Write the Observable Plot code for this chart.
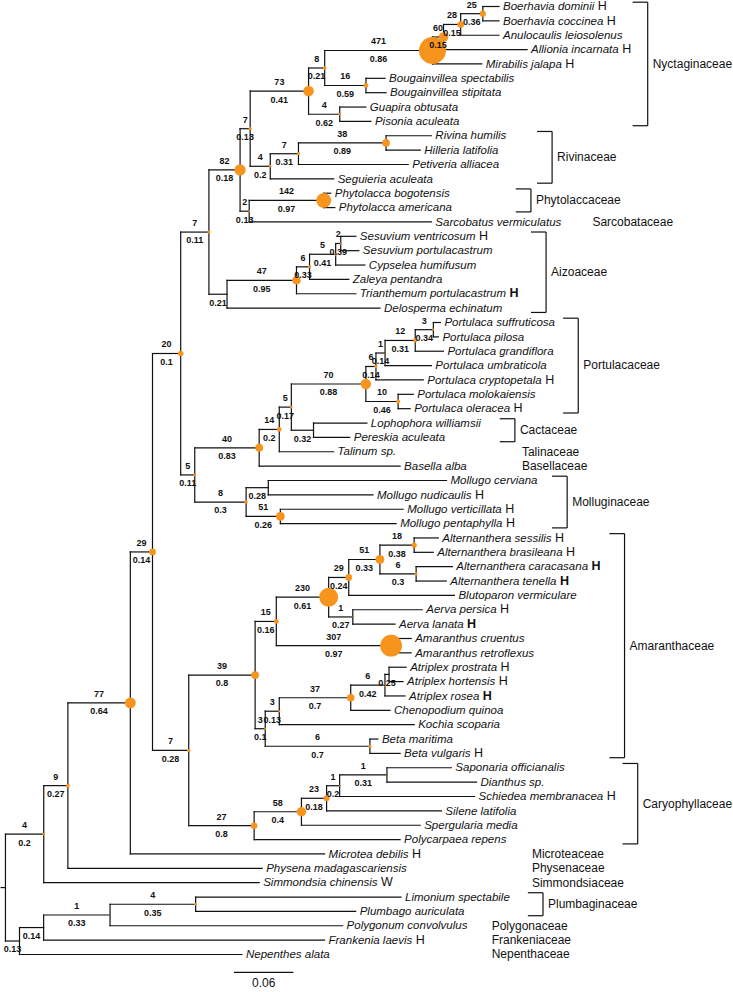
<!DOCTYPE html>
<html>
<head>
<meta charset="utf-8">
<script src="https://cdn.jsdelivr.net/npm/d3@7"></script>
<script src="https://cdn.jsdelivr.net/npm/@observablehq/plot@0.6"></script>
<style>
  html, body { margin: 0; padding: 0; background: #fff; }
  #chart { width: 733px; height: 992px; }
</style>
</head>
<body>
<div id="chart"></div>
<script>
// ---------- DATA ----------
// Internal nodes: id, parent, branch length (substitutions/site), count (dot size, upper label), support (lower label)
const nodeId = ["R","A","B","C","D","E","F","G","H","I","J","K","L","M","N8","N471","N60","N28","N25","N16","N4g","N4r","N7r","N38","N2","N142","NAizo","N47","N6a","N5a","N2a","N5b","N40","N14","N5c","N70","N6p","N1p","N12","N3p","N10","NCact","N8m","NM1","N51m","N7b","N39","N15","N230","N29","N51a","N18","N6t","N1a","N307","N3b","N3c","N37","N6at","N025","NBeta","N27","N58","N23","N1c","N1d"];
const nodeParent = [null,"R","A","B","C","R","E","F","G","H","I","J","K","L","M","N8","N471","N60","N28","N8","M","L","N4r","N7r","K","N2","J","NAizo","N47","N6a","N5a","I","N5b","N40","N14","N5c","N70","N6p","N1p","N12","N70","N5c","N5b","N8m","N8m","H","N7b","N39","N15","N230","N29","N51a","N51a","N230","N15","N39","N3b","N3c","N37","N6at","N3b","N7b","N27","N58","N23","N1c"];
const nodeLength = [0,0.0142,0.0244,0.0671,0.0865,0.0387,0.0244,0.0631,0.0224,0.0285,0.0285,0.0315,0.0102,0.0590,0.0163,0.1089,0.0112,0.0173,0.0224,0.0417,0.0315,0.0203,0.0285,0.0885,0.0092,0.0753,0.0183,0.0702,0.0132,0.0264,0.0051,0.0142,0.0651,0.0203,0.0122,0.0753,0.0102,0.0092,0.0305,0.0183,0.0326,0.0224,0.0519,0.0224,0.0346,0.0366,0.0671,0.0214,0.0529,0.0203,0.0315,0.0346,0.0366,0.0244,0.1160,0.0102,0.0142,0.0722,0.0346,0.0041,0.1058,0.0661,0.0478,0.0254,0.0132,0.0478];
const nodeCount = [null,null,null,1,4,4,9,77,29,20,7,82,7,73,8,471,60,28,25,16,4,4,7,38,2,142,null,47,6,5,2,5,40,14,5,70,6,1,12,3,10,null,8,null,51,7,39,15,230,29,51,18,6,1,307,3,3,37,6,null,6,27,58,23,1,1];
const nodeSupport = [null,0.13,0.14,0.33,0.35,0.2,0.27,0.64,0.14,0.1,0.11,0.18,0.13,0.41,0.21,0.86,0.15,0.15,0.36,0.59,0.62,0.2,0.31,0.89,0.13,0.97,0.21,0.95,0.33,0.41,0.39,0.11,0.83,0.2,0.17,0.88,0.14,0.14,0.31,0.34,0.46,0.32,0.3,0.28,0.26,0.28,0.8,0.16,0.61,0.24,0.33,0.38,0.3,0.27,0.97,0.1,0.13,0.7,0.42,0.25,0.7,0.8,0.4,0.18,0.2,0.31];
const rootEdge = 0.005;

// Leaves (top to bottom)
const leafName = ["Boerhavia dominii","Boerhavia coccinea","Anulocaulis leiosolenus","Allionia incarnata","Mirabilis jalapa","Bougainvillea spectabilis","Bougainvillea stipitata","Guapira obtusata","Pisonia aculeata","Rivina humilis","Hilleria latifolia","Petiveria alliacea","Seguieria aculeata","Phytolacca bogotensis","Phytolacca americana","Sarcobatus vermiculatus","Sesuvium ventricosum","Sesuvium portulacastrum","Cypselea humifusum","Zaleya pentandra","Trianthemum portulacastrum","Delosperma echinatum","Portulaca suffruticosa","Portulaca pilosa","Portulaca grandiflora","Portulaca umbraticola","Portulaca cryptopetala","Portulaca molokaiensis","Portulaca oleracea","Lophophora williamsii","Pereskia aculeata","Talinum sp.","Basella alba","Mollugo cerviana","Mollugo nudicaulis","Mollugo verticillata","Mollugo pentaphylla","Alternanthera sessilis","Alternanthera brasileana","Alternanthera caracasana","Alternanthera tenella","Blutoparon vermiculare","Aerva persica","Aerva lanata","Amaranthus cruentus","Amaranthus retroflexus","Atriplex prostrata","Atriplex hortensis","Atriplex rosea","Chenopodium quinoa","Kochia scoparia","Beta maritima","Beta vulgaris","Saponaria officianalis","Dianthus sp.","Schiedea membranacea","Silene latifolia","Spergularia media","Polycarpaea repens","Microtea debilis","Physena madagascariensis","Simmondsia chinensis","Limonium spectabile","Plumbago auriculata","Polygonum convolvulus","Frankenia laevis","Nepenthes alata"];
const leafSuffix = ["H","H","","H","H","","","","","","","","","","","","H","","","","H","","","","","","H","","H","","","","","","H","H","H","H","H","H","H","","H","H","","","H","H","H","","","","H","","","H","","","","H","","W","","","","H",""];
const leafParent = ["N25","N25","N28","N60","N471","N16","N16","N4g","N4g","N38","N38","N7r","N4r","N142","N142","N2","N2a","N2a","N5a","N6a","N47","NAizo","N3p","N3p","N12","N1p","N6p","N10","N10","NCact","NCact","N14","N40","NM1","NM1","N51m","N51m","N18","N18","N6t","N6t","N29","N1a","N1a","N307","N307","N025","N025","N6at","N37","N3c","NBeta","NBeta","N1d","N1d","N1c","N23","N58","N27","G","F","E","D","D","C","B","A"];
const leafLength = [0.0163,0.0163,0.0387,0.0844,0.0498,0.0193,0.0203,0.0264,0.0315,0.0458,0.0346,0.1109,0.0641,0.0071,0.0112,0.1841,0.0153,0.0183,0.0295,0.0397,0.0600,0.1546,0.0071,0.0051,0.0285,0.0468,0.0478,0.0153,0.0122,0.0539,0.0366,0.0549,0.1424,0.1801,0.1058,0.1241,0.1170,0.0244,0.0193,0.0366,0.0305,0.1068,0.0702,0.0427,0.0203,0.0203,0.0173,0.0142,0.0203,0.0397,0.1363,0.0081,0.0305,0.0651,0.0905,0.1363,0.1160,0.1200,0.1475,0.1963,0.1963,0.2177,0.2075,0.1617,0.2350,0.2838,0.2248];

// Families (leaf index ranges)
const familyName = ["Nyctaginaceae","Rivinaceae","Phytolaccaceae","Sarcobataceae","Aizoaceae","Portulacaceae","Cactaceae","Talinaceae","Basellaceae","Molluginaceae","Amaranthaceae","Caryophyllaceae","Microteaceae","Physenaceae","Simmondsiaceae","Plumbaginaceae","Polygonaceae","Frankeniaceae","Nepenthaceae"];
const familyFirst = [0,9,13,15,16,22,29,31,32,33,37,53,59,60,61,62,64,65,66];
const familyLast  = [8,12,14,15,21,28,30,31,32,36,52,58,59,60,61,63,64,65,66];

const scaleBarLength = 0.06;

// ---------- LAYOUT (annotation placement, in branch-length units) ----------
const familyX = [0.649,0.5524,0.531,0.5931,0.5463,0.5788,0.5148,0.5219,0.5219,0.5676,0.6256,0.6389,0.532,0.532,0.532,0.5432,0.4913,0.4913,0.4913];
const scaleBarStart = 0.2309;
const boldSuffix = new Set(["Trianthemum portulacastrum","Alternanthera caracasana","Alternanthera tenella","Aerva lanata","Atriplex rosea"]);

// ---------- BUILD TREE ----------
const nodes = new Map();
nodeId.forEach((id, i) => nodes.set(id, {id, parent: nodeParent[i], len: nodeLength[i], count: nodeCount[i], support: nodeSupport[i], children: [], leaf: false}));
leafName.forEach((nm, i) => nodes.set("leaf" + i, {id: "leaf" + i, parent: leafParent[i], len: leafLength[i], children: [], leaf: true, y: i, name: nm, suffix: leafSuffix[i]}));
for (const n of nodes.values()) if (n.parent) nodes.get(n.parent).children.push(n);
const root = nodes.get("R");
(function setX(n, x) { n.x = x; for (const c of n.children) setX(c, x + c.len); })(root, 0);
(function setY(n) {
  if (n.leaf) return n.y;
  const ys = n.children.map(setY);
  n.y0 = Math.min(...ys); n.y1 = Math.max(...ys);
  n.y = (n.y0 + n.y1) / 2;
  return n.y;
})(root);
for (const n of nodes.values()) if (n.parent) n.px = nodes.get(n.parent).x;

const all = Array.from(nodes.values());
const edges = all.filter(n => n.parent);
const internal = all.filter(n => !n.leaf);
const leaves = all.filter(n => n.leaf).sort((a, b) => a.y - b.y);
const labelled = internal.filter(n => n.parent);

const families = familyName.map((name, i) => ({name, first: familyFirst[i], last: familyLast[i], x: familyX[i], bracket: familyLast[i] > familyFirst[i]}));
const brackets = families.filter(f => f.bracket);
const singles = families.filter(f => !f.bracket);
const tick = 0.0153;

const orange = "#f7941d";
const ink = "#111";
const font = "Liberation Sans, Arial, Helvetica, sans-serif";

const plot = Plot.plot({
  width: 733,
  height: 992,
  marginLeft: 0, marginRight: 0, marginTop: 6, marginBottom: 38,
  x: {domain: [-rootEdge, 0.7357], axis: null},
  y: {domain: [0, 66], reverse: true, axis: null},
  r: {domain: [0, 471], range: [0, 13.5]},
  style: {fontFamily: font, background: "#fff"},
  marks: [
    // root edge
    Plot.link([root], {x1: -rootEdge, x2: d => d.x, y1: d => d.y, y2: d => d.y, stroke: ink, strokeWidth: 1.2}),
    // horizontal branches
    Plot.link(edges, {x1: d => d.px, x2: d => d.x, y1: d => d.y, y2: d => d.y, stroke: ink, strokeWidth: 1.2, strokeLinecap: "square"}),
    // vertical connectors
    Plot.link(internal, {x1: d => d.x, x2: d => d.x, y1: d => d.y0, y2: d => d.y1, stroke: ink, strokeWidth: 1.2, strokeLinecap: "square"}),
    // node dots
    Plot.dot(internal.filter(n => n.count != null), {x: "x", y: "y", r: "count", fill: orange, stroke: "none"}),
    // count labels (above branch)
    Plot.text(labelled.filter(n => n.count != null), {x: d => (d.px + d.x) / 2, y: "y", text: d => String(d.count), dy: -9, fontSize: 9, fontWeight: "bold", fill: ink}),
    // support labels (below branch)
    Plot.text(labelled.filter(n => n.support != null), {x: d => (d.px + d.x) / 2, y: "y", text: d => String(d.support), dy: 8.5, fontSize: 9, fontWeight: "bold", fill: ink}),
    // species labels
    Plot.text(leaves, {x: "x", y: "y", text: "name", textAnchor: "start", dx: 4, fontSize: 11.5, fontStyle: "italic", fill: ink}),
    // family brackets
    Plot.link(brackets, {x1: d => d.x, x2: d => d.x, y1: d => d.first - 0.3, y2: d => d.last + 0.3, stroke: ink, strokeWidth: 1.2}),
    Plot.link(brackets, {x1: d => d.x - tick, x2: d => d.x, y1: d => d.first - 0.3, y2: d => d.first - 0.3, stroke: ink, strokeWidth: 1.2}),
    Plot.link(brackets, {x1: d => d.x - tick, x2: d => d.x, y1: d => d.last + 0.3, y2: d => d.last + 0.3, stroke: ink, strokeWidth: 1.2}),
    Plot.text(singles, {x: "x", y: d => (d.first + d.last) / 2, text: "name", textAnchor: "start", fontSize: 12, fill: ink}),
    Plot.text(brackets, {x: "x", y: d => (d.first + d.last) / 2, text: "name", textAnchor: "start", dx: 5, fontSize: 12, fill: ink}),
    // scale bar
    Plot.link([scaleBarLength], {x1: scaleBarStart, x2: d => scaleBarStart + d, y1: 67.25, y2: 67.25, stroke: ink, strokeWidth: 1.2}),
    Plot.text([scaleBarLength], {x: d => scaleBarStart + d / 2, y: 68.0, text: d => String(d), fontSize: 12, fill: ink})
  ]
});

// upright (non-italic) suffix after each species name
const speciesGroup = plot.querySelector('g[font-style="italic"]');
if (speciesGroup) {
  speciesGroup.querySelectorAll("text").forEach((el, k) => {
    const i = typeof el.__data__ === "number" ? el.__data__ : k;
    const leaf = leaves[i];
    if (!leaf || !leaf.suffix) return;
    const t2 = document.createElementNS("http://www.w3.org/2000/svg", "tspan");
    t2.textContent = " " + leaf.suffix;
    t2.setAttribute("font-style", "normal");
    t2.setAttribute("font-size", "12.5");
    if (boldSuffix.has(leaf.name)) t2.setAttribute("font-weight", "bold");
    el.appendChild(t2);
  });
}

document.getElementById("chart").appendChild(plot);
</script>
</body>
</html>
